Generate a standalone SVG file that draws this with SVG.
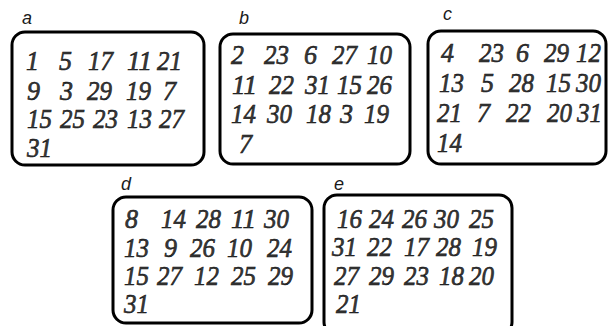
<svg xmlns="http://www.w3.org/2000/svg" width="608" height="326" viewBox="0 0 608 326">
<style>
.box{fill:#fff;stroke:#000;stroke-width:3}
.lbl{font-family:"Liberation Sans",Arial,sans-serif;font-style:italic;font-size:18px;fill:#1a1a1a}
.n{font-family:"Liberation Serif","Times New Roman",serif;font-style:italic;font-size:28px;fill:#3a3a3a;stroke:#111;stroke-width:0.6}
</style>
<rect width="608" height="326" fill="#fff"/>
<g id="card-a">
<text class="lbl" x="22" y="24">a</text>
<rect class="box" x="12" y="32" width="192" height="133" rx="13"/>
<g class="n">
<text x="26" y="70" textLength="13" lengthAdjust="spacingAndGlyphs">1</text><text x="59" y="70" textLength="13" lengthAdjust="spacingAndGlyphs">5</text><text x="88" y="70" textLength="25" lengthAdjust="spacingAndGlyphs">17</text><text x="127" y="70" textLength="25" lengthAdjust="spacingAndGlyphs">11</text><text x="157" y="70" textLength="25" lengthAdjust="spacingAndGlyphs">21</text>
<text x="27" y="100" textLength="13" lengthAdjust="spacingAndGlyphs">9</text><text x="60" y="100" textLength="13" lengthAdjust="spacingAndGlyphs">3</text><text x="87" y="100" textLength="25" lengthAdjust="spacingAndGlyphs">29</text><text x="126" y="100" textLength="25" lengthAdjust="spacingAndGlyphs">19</text><text x="163" y="100" textLength="13" lengthAdjust="spacingAndGlyphs">7</text>
<text x="27" y="128" textLength="25" lengthAdjust="spacingAndGlyphs">15</text><text x="60" y="128" textLength="25" lengthAdjust="spacingAndGlyphs">25</text><text x="93" y="128" textLength="25" lengthAdjust="spacingAndGlyphs">23</text><text x="127" y="128" textLength="25" lengthAdjust="spacingAndGlyphs">13</text><text x="159" y="128" textLength="25" lengthAdjust="spacingAndGlyphs">27</text>
<text x="27" y="157" textLength="25" lengthAdjust="spacingAndGlyphs">31</text>
</g>
</g>
<g id="card-b">
<text class="lbl" x="239" y="24">b</text>
<rect class="box" x="220" y="34" width="190" height="130" rx="13"/>
<g class="n">
<text x="231" y="64" textLength="13" lengthAdjust="spacingAndGlyphs">2</text><text x="264" y="64" textLength="25" lengthAdjust="spacingAndGlyphs">23</text><text x="304" y="64" textLength="13" lengthAdjust="spacingAndGlyphs">6</text><text x="332" y="64" textLength="25" lengthAdjust="spacingAndGlyphs">27</text><text x="367" y="64" textLength="25" lengthAdjust="spacingAndGlyphs">10</text>
<text x="232" y="94" textLength="25" lengthAdjust="spacingAndGlyphs">11</text><text x="269" y="94" textLength="25" lengthAdjust="spacingAndGlyphs">22</text><text x="305" y="94" textLength="25" lengthAdjust="spacingAndGlyphs">31</text><text x="337" y="94" textLength="25" lengthAdjust="spacingAndGlyphs">15</text><text x="367" y="94" textLength="25" lengthAdjust="spacingAndGlyphs">26</text>
<text x="231" y="123" textLength="25" lengthAdjust="spacingAndGlyphs">14</text><text x="267" y="123" textLength="25" lengthAdjust="spacingAndGlyphs">30</text><text x="306" y="123" textLength="25" lengthAdjust="spacingAndGlyphs">18</text><text x="340" y="123" textLength="13" lengthAdjust="spacingAndGlyphs">3</text><text x="364" y="123" textLength="25" lengthAdjust="spacingAndGlyphs">19</text>
<text x="239" y="153" textLength="13" lengthAdjust="spacingAndGlyphs">7</text>
</g>
</g>
<g id="card-c">
<text class="lbl" x="443" y="20">c</text>
<rect class="box" x="428" y="31" width="178" height="133" rx="13"/>
<g class="n">
<text x="441" y="62" textLength="13" lengthAdjust="spacingAndGlyphs">4</text><text x="479" y="62" textLength="25" lengthAdjust="spacingAndGlyphs">23</text><text x="516" y="62" textLength="13" lengthAdjust="spacingAndGlyphs">6</text><text x="544" y="62" textLength="25" lengthAdjust="spacingAndGlyphs">29</text><text x="576" y="62" textLength="25" lengthAdjust="spacingAndGlyphs">12</text>
<text x="439" y="92" textLength="25" lengthAdjust="spacingAndGlyphs">13</text><text x="481" y="92" textLength="13" lengthAdjust="spacingAndGlyphs">5</text><text x="509" y="92" textLength="25" lengthAdjust="spacingAndGlyphs">28</text><text x="546" y="92" textLength="25" lengthAdjust="spacingAndGlyphs">15</text><text x="576" y="92" textLength="25" lengthAdjust="spacingAndGlyphs">30</text>
<text x="437" y="122" textLength="25" lengthAdjust="spacingAndGlyphs">21</text><text x="477" y="122" textLength="13" lengthAdjust="spacingAndGlyphs">7</text><text x="506" y="122" textLength="25" lengthAdjust="spacingAndGlyphs">22</text><text x="547" y="122" textLength="25" lengthAdjust="spacingAndGlyphs">20</text><text x="577" y="122" textLength="25" lengthAdjust="spacingAndGlyphs">31</text>
<text x="437" y="152" textLength="25" lengthAdjust="spacingAndGlyphs">14</text>
</g>
</g>
<g id="card-d">
<text class="lbl" x="121" y="190">d</text>
<rect class="box" x="113" y="197" width="199" height="126" rx="13"/>
<g class="n">
<text x="125" y="228" textLength="13" lengthAdjust="spacingAndGlyphs">8</text><text x="161" y="228" textLength="25" lengthAdjust="spacingAndGlyphs">14</text><text x="196" y="228" textLength="25" lengthAdjust="spacingAndGlyphs">28</text><text x="231" y="228" textLength="25" lengthAdjust="spacingAndGlyphs">11</text><text x="264" y="228" textLength="25" lengthAdjust="spacingAndGlyphs">30</text>
<text x="124" y="257" textLength="25" lengthAdjust="spacingAndGlyphs">13</text><text x="164" y="257" textLength="13" lengthAdjust="spacingAndGlyphs">9</text><text x="190" y="257" textLength="25" lengthAdjust="spacingAndGlyphs">26</text><text x="227" y="257" textLength="25" lengthAdjust="spacingAndGlyphs">10</text><text x="267" y="257" textLength="25" lengthAdjust="spacingAndGlyphs">24</text>
<text x="124" y="285" textLength="25" lengthAdjust="spacingAndGlyphs">15</text><text x="157" y="285" textLength="25" lengthAdjust="spacingAndGlyphs">27</text><text x="194" y="285" textLength="25" lengthAdjust="spacingAndGlyphs">12</text><text x="231" y="285" textLength="25" lengthAdjust="spacingAndGlyphs">25</text><text x="268" y="285" textLength="25" lengthAdjust="spacingAndGlyphs">29</text>
<text x="124" y="313" textLength="25" lengthAdjust="spacingAndGlyphs">31</text>
</g>
</g>
<g id="card-e">
<text class="lbl" x="334" y="190">e</text>
<rect class="box" x="324" y="195" width="188" height="140" rx="13"/>
<g class="n">
<text x="337" y="228" textLength="25" lengthAdjust="spacingAndGlyphs">16</text><text x="369" y="228" textLength="25" lengthAdjust="spacingAndGlyphs">24</text><text x="402" y="228" textLength="25" lengthAdjust="spacingAndGlyphs">26</text><text x="434" y="228" textLength="25" lengthAdjust="spacingAndGlyphs">30</text><text x="469" y="228" textLength="25" lengthAdjust="spacingAndGlyphs">25</text>
<text x="332" y="256" textLength="25" lengthAdjust="spacingAndGlyphs">31</text><text x="367" y="256" textLength="25" lengthAdjust="spacingAndGlyphs">22</text><text x="404" y="256" textLength="25" lengthAdjust="spacingAndGlyphs">17</text><text x="436" y="256" textLength="25" lengthAdjust="spacingAndGlyphs">28</text><text x="472" y="256" textLength="25" lengthAdjust="spacingAndGlyphs">19</text>
<text x="334" y="285" textLength="25" lengthAdjust="spacingAndGlyphs">27</text><text x="369" y="285" textLength="25" lengthAdjust="spacingAndGlyphs">29</text><text x="404" y="285" textLength="25" lengthAdjust="spacingAndGlyphs">23</text><text x="439" y="285" textLength="25" lengthAdjust="spacingAndGlyphs">18</text><text x="469" y="285" textLength="25" lengthAdjust="spacingAndGlyphs">20</text>
<text x="336" y="313" textLength="25" lengthAdjust="spacingAndGlyphs">21</text>
</g>
</g>
</svg>
